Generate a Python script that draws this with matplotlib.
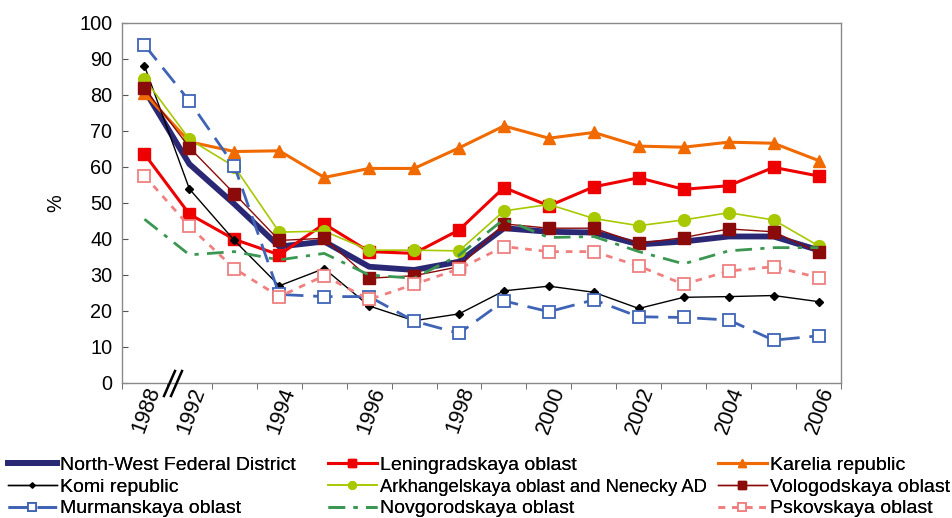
import matplotlib
matplotlib.use("Agg")
import matplotlib.pyplot as plt
from matplotlib.lines import Line2D
import numpy as np

plt.rcParams['font.family'] = ['Liberation Sans', 'DejaVu Sans']

years = ["1988", "1992", "1993", "1994", "1995", "1996", "1997", "1998",
         "1999", "2000", "2001", "2002", "2003", "2004", "2005", "2006"]
shown_labels = ["1988", "1992", "1994", "1996", "1998", "2000", "2002", "2004", "2006"]

nwfd = [81.4, 60.8, 49.7, 37.9, 39.3, 32.3, 31.4, 33.7, 43.0, 42.0, 41.8, 38.5, 39.3, 40.7, 40.7, 36.9]
leningrad = [63.6, 46.9, 39.9, 35.6, 44.2, 36.5, 36.0, 42.5, 54.3, 49.2, 54.5, 57.0, 53.8, 54.8, 59.9, 57.5]
karelia = [80.5, 67.0, 64.3, 64.5, 57.1, 59.6, 59.6, 65.3, 71.4, 68.0, 69.6, 65.8, 65.5, 66.9, 66.6, 61.8]
komi = [88.1, 53.9, 39.6, 27.0, 31.8, 21.4, 17.3, 19.2, 25.6, 26.9, 25.2, 20.7, 23.8, 24.0, 24.3, 22.6]
arkh = [84.5, 67.7, 60.1, 41.9, 42.2, 36.9, 36.9, 36.7, 47.8, 49.6, 45.7, 43.7, 45.3, 47.3, 45.3, 38.1]
vologda = [81.9, 65.4, 52.6, 39.6, 40.2, 29.1, 29.8, 32.3, 44.2, 43.0, 43.0, 38.8, 40.4, 42.8, 42.0, 36.3]
murmansk = [93.9, 78.3, 60.3, 24.6, 24.0, 24.0, 17.2, 13.8, 22.8, 19.8, 23.1, 18.4, 18.2, 17.5, 11.9, 13.1]
novgorod = [45.5, 35.6, 36.5, 34.2, 36.0, 30.0, 29.1, 35.5, 45.5, 40.4, 40.7, 36.5, 33.1, 36.7, 37.6, 37.6]
pskov = [57.6, 43.5, 31.8, 24.0, 29.8, 23.2, 27.4, 31.7, 37.9, 36.5, 36.5, 32.5, 27.4, 31.1, 32.3, 29.3]

W, H = 953, 518
fig = plt.figure(figsize=(W / 100, H / 100), dpi=100)
ax = fig.add_axes([122 / W, (H - 383) / H, (841 - 122) / W, (383 - 23) / H])

x = np.arange(len(years))

h_nwfd, = ax.plot(x, nwfd, color="#2A2874", lw=4.2, solid_joinstyle='round',
                  label="North-West Federal District", zorder=3)
h_len, = ax.plot(x, leningrad, color="#EE0000", lw=2.2, marker='s', ms=8,
                 label="Leningradskaya oblast", zorder=4)
h_kar, = ax.plot(x, karelia, color="#F06A00", lw=2.2, marker='^', ms=8.5,
                 label="Karelia republic", zorder=4)
h_komi, = ax.plot(x, komi, color="black", lw=1.0, marker='D', ms=4,
                  label="Komi republic", zorder=5)
h_arkh, = ax.plot(x, arkh, color="#A8C800", lw=1.2, marker='o', ms=8.5,
                  label="Arkhangelskaya oblast and Nenecky AD", zorder=5)
h_vol, = ax.plot(x, vologda, color="#8B0A0A", lw=1.0, marker='s', ms=8,
                 label="Vologodskaya oblast", zorder=5)
h_mur, = ax.plot(x, murmansk, color="#3F63B5", lw=2.0, ls=(0, (7, 3.5)), marker='s', ms=8,
                 mfc='white', mec="#3F63B5", mew=1.3, label="Murmanskaya oblast", zorder=6)
h_nov, = ax.plot(x, novgorod, color="#3A9650", lw=2.0, ls=(0, (6, 3, 1.5, 3)),
                 label="Novgorodskaya oblast", zorder=6)
h_psk, = ax.plot(x, pskov, color="#F08080", lw=2.0, ls=(0, (2.4, 2.5)), marker='s', ms=8,
                 mfc='white', mec="#F08080", mew=1.3, label="Pskovskaya oblast", zorder=6)

ax.set_xlim(-0.5, len(years) - 0.5)
ax.set_ylim(0, 100)
ax.set_yticks(np.arange(0, 101, 10))
ax.tick_params(axis='y', labelsize=14.3, direction='in', length=4, color='#555555', pad=7)

label_pos = [years.index(l) for l in shown_labels]
ax.set_xticks(label_pos)
ax.set_xticklabels(shown_labels, rotation=70, ha='right', va='top',
                   rotation_mode='anchor', fontsize=15.5)
ax.set_xticks(np.arange(-0.5, len(years), 1.0), minor=True)
ax.tick_params(axis='x', which='major', length=0, pad=1)
ax.tick_params(axis='x', which='minor', length=4, direction='out', color='#555555')

for s in ax.spines.values():
    s.set_color('#8a8a8a')
    s.set_linewidth(1.0)

ax.set_ylabel("%", fontsize=14.3, labelpad=10)

# axis break marks
for dx in (0, 7):
    fig.add_artist(Line2D([(164 + dx) / W, (175 + dx) / W],
                          [(H - 396) / H, (H - 371) / H],
                          color='black', lw=1.8, transform=fig.transFigure))

columns = [([h_nwfd, h_komi, h_mur], 8),
           ([h_len, h_arkh, h_nov], 328),
           ([h_kar, h_vol, h_psk], 718)]
for i, (hs, xpos) in enumerate(columns):
    leg = fig.legend(handles=hs, labels=[h.get_label() for h in hs],
                     ncol=1, loc='upper left', bbox_to_anchor=(xpos / W, (H - 456) / H),
                     frameon=False, fontsize=14.0, handlelength=2.5, handletextpad=0.2,
                     labelspacing=0.22, borderpad=0, borderaxespad=0, markerscale=0.65)
    if i == 1:
        leg.get_texts()[1].set_fontsize(13.2)
    fig.add_artist(leg)

fig.savefig("out.png", dpi=100)
